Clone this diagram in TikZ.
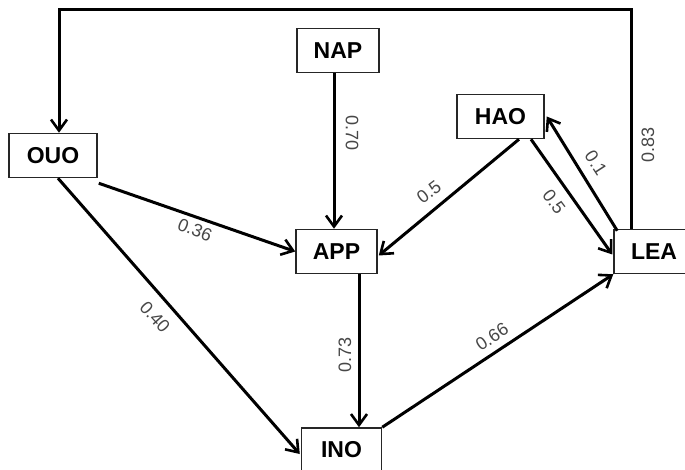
\documentclass[tikz,border=0pt]{standalone}
\usepackage{fontspec}
\setmainfont{Liberation Sans}
\usetikzlibrary{arrows.meta,calc}

\begin{document}
\begin{tikzpicture}[x=1pt,y=-1pt,
  box/.style={draw=black!85,line width=1.5pt,fill=white,inner sep=0pt,
    minimum height=44pt,font=\fontsize{23}{23}\selectfont\bfseries},
  link/.style={line width=3pt,-{Straight Barb[length=11pt,width=16pt,line width=2.6pt]}},
  wt/.style={text=black!72,font=\fontsize{18}{18}\selectfont,inner sep=0pt}]
\useasboundingbox (0,0) rectangle (685,470);
\clip (0,0) rectangle (685,470);
\fill[white] (0,0) rectangle (685,470);

% variables
\node[box,minimum width=82pt] (NAP) at (338,50.5) {NAP};
\node[box,minimum width=88pt] (OUO) at (53,155.5) {OUO};
\node[box,minimum width=87pt] (HAO) at (500.5,116.5) {HAO};
\node[box,minimum width=81pt] (APP) at (336.5,251.5) {APP};
\node[box,minimum width=80pt] (LEA) at (654,251.5) {LEA};
\node[box,minimum width=80pt] (INO) at (341.5,450) {INO};

% paths
\draw[link] (NAP.south -| 334,0) -- (APP.north -| 334,0);
\draw[link] ($(APP.south)+(22.5,0)$) -- ($(INO.north)+(17.5,0)$);
\draw[link] ($(OUO.south east)+(1,5)$) -- (APP.west);
\draw[link] ($(OUO.south)+(5,0)$) -- ($(INO.west)+(-1,4)$);
\draw[link] ($(HAO.south)+(18.5,0)$) -- ($(APP.east)+(1,4)$);
\draw[link] ($(HAO.south)+(30.5,0)$) -- ($(LEA.west)+(-1,3)$);
\draw[link] ($(LEA.north west)+(4,2)$) -- ($(HAO.east)+(2,0)$);
\draw[link] (INO.north east) -- (LEA.south west);
\draw[link] ($(LEA.north west)+(18,0)$) |- (59,10) -- ($(OUO.north)+(6,0)$);

% weights
\node[wt,rotate=-90] (w1) at (352,133) {0.70};
\node[wt,rotate=90]  (w2) at (345,355) {0.73};
\node[wt,rotate=-22] (w3) at (195,230) {0.36};
\node[wt,rotate=-47.7] (w4) at (155,317) {0.40};
\node[wt,rotate=37]  (w5) at (429,192) {0.5};
\node[wt,rotate=-53] (w6) at (554,202) {0.5};
\node[wt,rotate=-57] (w7) at (596,163) {0.1};
\node[wt,rotate=33.7] (w8) at (492,337) {0.66};
\node[wt,rotate=90]  (w9) at (648,145) {0.83};
\end{tikzpicture}
\end{document}
